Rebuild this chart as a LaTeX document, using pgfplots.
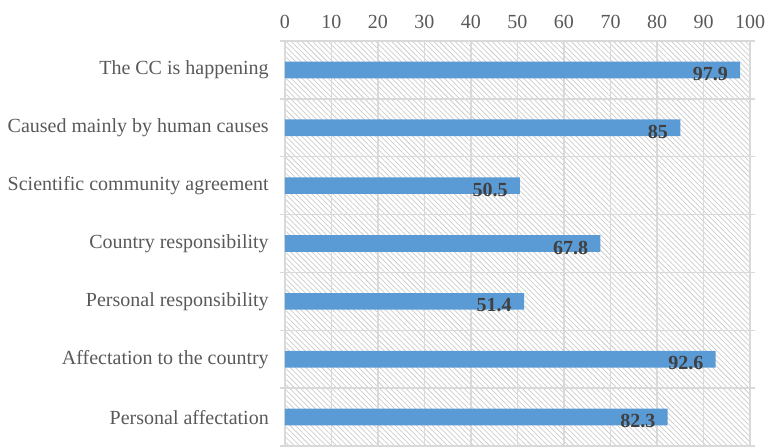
\documentclass[border=0pt]{standalone}
\usepackage{pgfplots}
\pgfplotsset{compat=1.18}
\usepackage{fontspec}
\setmainfont{Liberation Serif}
\usetikzlibrary{patterns.meta}

\definecolor{barblue}{HTML}{5B9BD5}
\definecolor{gridgray}{HTML}{D9D9D9}
\definecolor{hatchgray}{HTML}{CCCCCC}
\definecolor{labelgray}{HTML}{595959}
\definecolor{valgray}{HTML}{404040}

\pgfplotstableread{
idx value
0 97.9
1 85
2 50.5
3 67.8
4 51.4
5 92.6
6 82.3
}\opinions

\begin{document}
\fontsize{15}{17}\selectfont
\begin{tikzpicture}
\path[use as bounding box] (-213.75pt,-0.75pt) rectangle (361.5pt,334.5pt);
\begin{axis}[
  at={(0,0)}, anchor=south west,
  scale only axis,
  width=348.75pt, height=303.75pt,
  xbar, bar width=12.5pt,
  xmin=0, xmax=100,
  ymin=-0.5, ymax=6.5,
  y dir=reverse,
  xtick={0,10,...,100},
  xticklabel pos=top,
  ytick={0,...,6},
  yticklabels={The CC is happening,Caused mainly by human causes,Scientific community agreement,Country responsibility,Personal responsibility,Affectation to the country,Personal affectation},
  minor ytick={-0.5,0.5,...,6.5},
  xmajorgrids, yminorgrids,
  major grid style={gridgray, line width=1.1pt},
  minor grid style={gridgray, line width=1.1pt},
  axis line style={gridgray, line width=1.1pt},
  major tick length=0pt,
  minor tick length=4pt,
  tick align=outside,
  minor tick style={gridgray, line width=1.1pt},
  tick label style={font=\fontsize{15}{17}\selectfont, text=labelgray},
  /pgf/number format/assume math mode=true,
  xticklabel style={yshift=4pt},
  yticklabel style={xshift=-7pt},
  axis background/.style={
    pattern={Lines[angle=-45, distance=2.8pt, line width=0.55pt]},
    pattern color=hatchgray},
  nodes near coords,
  nodes near coords style={anchor=east, xshift=-4pt, yshift=-3pt,
    font=\fontsize{15}{17}\selectfont\bfseries, text=valgray},
  point meta=explicit symbolic,
]
\addplot[fill=barblue, draw=none] table[x=value, y=idx, meta=value] {\opinions};
\end{axis}
\end{tikzpicture}
\end{document}
